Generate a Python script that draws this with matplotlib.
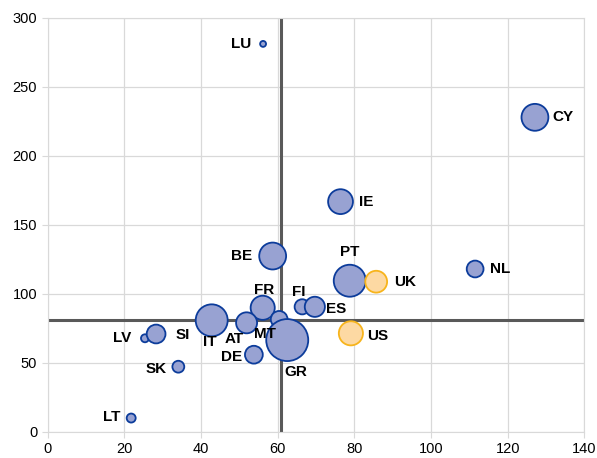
import numpy as np
import matplotlib.pyplot as plt

plt.rcParams['font.family'] = ['Liberation Sans', 'DejaVu Sans']

# pays, x, y et poids des bulles
pays = ['LU', 'CY', 'IE', 'BE', 'PT', 'UK', 'NL', 'FR', 'FI', 'ES',
        'IT', 'AT', 'MT', 'GR', 'US', 'LV', 'SI', 'SK', 'DE', 'LT']
x = [56.2, 127.1, 76.4, 58.7, 78.8, 85.7, 111.5, 56.1, 66.4, 69.7,
     42.8, 51.9, 60.4, 62.5, 79.1, 25.4, 28.3, 34.1, 53.8, 21.8]
y = [281, 227.8, 166.7, 127.3, 109.4, 108.7, 117.9, 89.8, 90.5, 90.5,
     80.7, 78.9, 81.4, 66.4, 71.3, 67.7, 70.8, 47.1, 55.8, 9.9]
poids = [2.0, 41, 35, 41, 58, 27, 16, 33, 13, 23,
         58, 25, 16, 100, 33, 3.6, 20, 8, 18, 4.6]
hors_ue = ['UK', 'US']

ref_x = 61
ref_y = 81

# décalage des étiquettes (pixels)
decal = {'LU': (-22, 0), 'CY': (28, 0), 'IE': (26, 0), 'BE': (-31, 0),
         'PT': (0, 29), 'UK': (29, 0), 'NL': (25, 0), 'FR': (1, 18),
         'FI': (-3, 15), 'ES': (21, -2), 'IT': (-2, -22), 'AT': (-12, -16),
         'MT': (-14, -15), 'GR': (9, -32), 'US': (27, -3), 'LV': (-23, 0),
         'SI': (27, -1), 'SK': (-22, -2), 'DE': (-22, -2), 'LT': (-19, 1)}

fig = plt.figure(figsize=(5.97, 4.58), dpi=100)
ax = fig.add_axes([0.0797, 0.0574, 0.8992, 0.904])

diam = 42 * np.sqrt(np.array(poids) / 100)  # pixels
taille = (diam * 0.72) ** 2
fc = ['#FDD9A3' if p in hors_ue else '#98A2D2' for p in pays]
ec = ['#F7B41C' if p in hors_ue else '#0C3C9B' for p in pays]
ax.scatter(x, y, s=taille, c=fc, edgecolors=ec, linewidths=1.3, zorder=3)

ax.axvline(ref_x, color='#595959', lw=2.2, zorder=2)
ax.axhline(ref_y, color='#595959', lw=2.2, zorder=2)

for i, p in enumerate(pays):
    ax.annotate(p, (x[i], y[i]), xytext=decal[p], textcoords='offset pixels',
                ha='center', va='center', fontsize=11, fontweight='bold',
                color='#000000', zorder=4)

ax.set_xlim(0, 140)
ax.set_ylim(0, 300)
ax.set_xticks(range(0, 141, 20))
ax.set_yticks(range(0, 301, 50))
ax.grid(color='#D9D9D9', lw=0.9, zorder=0)
ax.set_axisbelow(True)
for s in ax.spines.values():
    s.set_color('#D9D9D9')
ax.tick_params(colors='#D9D9D9', labelcolor='#000000', labelsize=10.5, length=4)

fig.savefig('out.png', dpi=100)
